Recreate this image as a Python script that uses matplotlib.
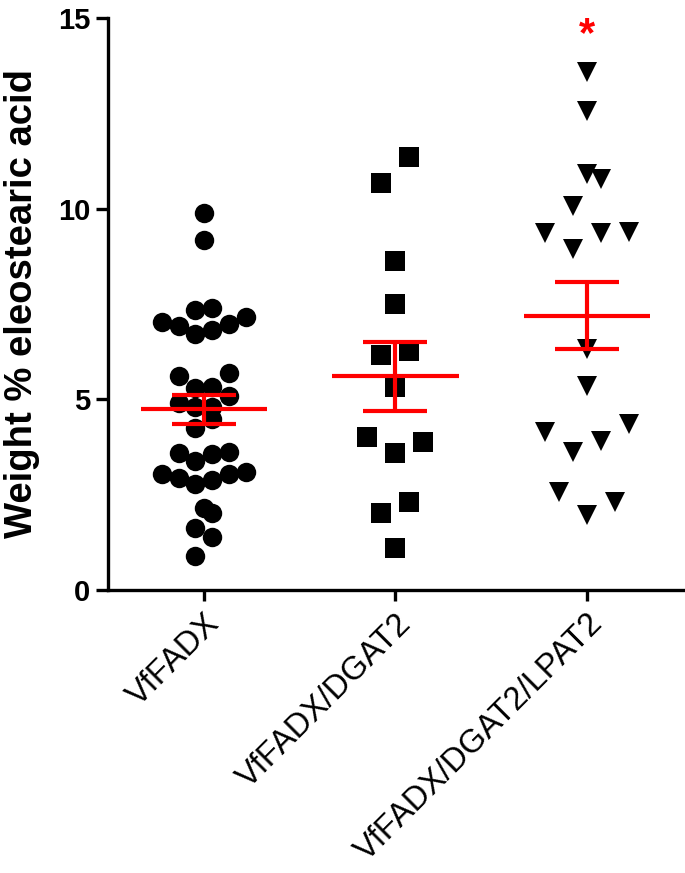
import numpy as np
import matplotlib
matplotlib.use("Agg")
import matplotlib.pyplot as plt

plt.rcParams['font.family'] = ['Liberation Sans', 'DejaVu Sans']

# datos (peso % de acido eleostearico)
categorias = ['VfFADX', 'VfFADX/DGAT2', 'VfFADX/DGAT2/LPAT2']

vffadx = [9.88, 9.18, 7.34, 7.39, 7.04, 6.93, 6.71, 6.82, 6.98, 7.15,
          5.68, 5.62, 5.33, 5.29, 5.10, 4.81, 4.79, 4.90, 4.48, 4.24,
          3.39, 3.60, 3.57, 3.61, 3.03, 2.95, 2.78, 2.88, 3.04, 3.10,
          2.14, 2.01, 1.62, 1.40, 0.90]
vffadx_dgat2 = [11.36, 10.67, 8.64, 7.49, 6.16, 6.28, 5.33, 4.02, 3.87,
                3.58, 2.32, 2.01, 1.11]
vffadx_dgat2_lpat2 = [13.58, 12.56, 10.92, 10.78, 10.08, 9.40, 9.37, 9.37,
                      8.95, 6.31, 5.36, 4.36, 4.14, 3.91, 3.62, 2.57, 2.32,
                      1.96]

grupos = [vffadx, vffadx_dgat2, vffadx_dgat2_lpat2]
marcadores = ['o', 's', 'v']
altura_bin = [0.5, 0.75, 0.75]   # altura de cada fila del "scatter" (unidades de y)
signo = '*'

fig = plt.figure(figsize=(6.85, 8.73), dpi=100)
ax = fig.add_axes([108 / 685, 1 - 590 / 873, 575 / 685, 572 / 873])
ax.set_xlim(-0.5, 2.5)
ax.set_ylim(0, 15)

# pixeles por unidad en x, para repartir los puntos en filas
px_x = ax.transData.transform((1, 0))[0] - ax.transData.transform((0, 0))[0]


def repartir(valores, h):
    # agrupa valores cercanos en filas y los separa horizontalmente
    v = np.sort(np.array(valores))
    filas = []
    actual = [v[0]]
    for y in v[1:]:
        if y - actual[0] < h:
            actual.append(y)
        else:
            filas.append(actual)
            actual = [y]
    filas.append(actual)
    nmax = max(len(f) for f in filas)
    paso = min(28.0, 84.0 / max(nmax - 1, 1)) / px_x
    xs, ys = [], []
    for f in filas:
        n = len(f)
        slots = [(i - (n - 1) / 2) * paso for i in range(n)]
        if n % 2:
            slots.sort(key=lambda s: (round(abs(s), 6), -s))
        else:
            slots.sort(key=lambda s: (round(abs(s), 6), s))
        for y, s in zip(f, slots):
            xs.append(s)
            ys.append(y)
    return np.array(xs), np.array(ys)


for i, (datos, m, h) in enumerate(zip(grupos, marcadores, altura_bin)):
    dx, yy = repartir(datos, h)
    ax.plot(i + dx, yy, linestyle='none', marker=m, markersize=14,
            color='black', markeredgewidth=0, zorder=2)
    media = np.mean(datos)
    sem = np.std(datos, ddof=1) / np.sqrt(len(datos))
    ax.hlines(media, i - 0.33, i + 0.33, color='red', linewidth=3, zorder=3)
    ax.errorbar(i, media, yerr=sem, color='red', elinewidth=3, capsize=22.7,
                capthick=3, fmt='none', zorder=3)

ax.text(2, 14.55, signo, color='red', fontsize=30, fontweight='bold',
        ha='center', va='center')

for lado in ['top', 'right']:
    ax.spines[lado].set_visible(False)
for lado in ['left', 'bottom']:
    ax.spines[lado].set_linewidth(2.4)

ax.set_yticks([0, 5, 10, 15])
ax.set_xticks([0, 1, 2])
ax.set_xticklabels(categorias, rotation=45, ha='right', rotation_mode='anchor',
                   fontsize=23.5)
ax.tick_params(axis='y', direction='out', length=8.6, width=2.4, pad=4,
               labelsize=21)
ax.tick_params(axis='x', direction='out', length=8, width=2.4, pad=5)
for t in ax.get_yticklabels():
    t.set_fontweight('bold')

ax.set_ylabel('Weight % eleostearic acid', fontsize=27.5, fontweight='bold')
ax.yaxis.set_label_coords(-0.118, 0.5)

fig.savefig('out.png', dpi=100)
